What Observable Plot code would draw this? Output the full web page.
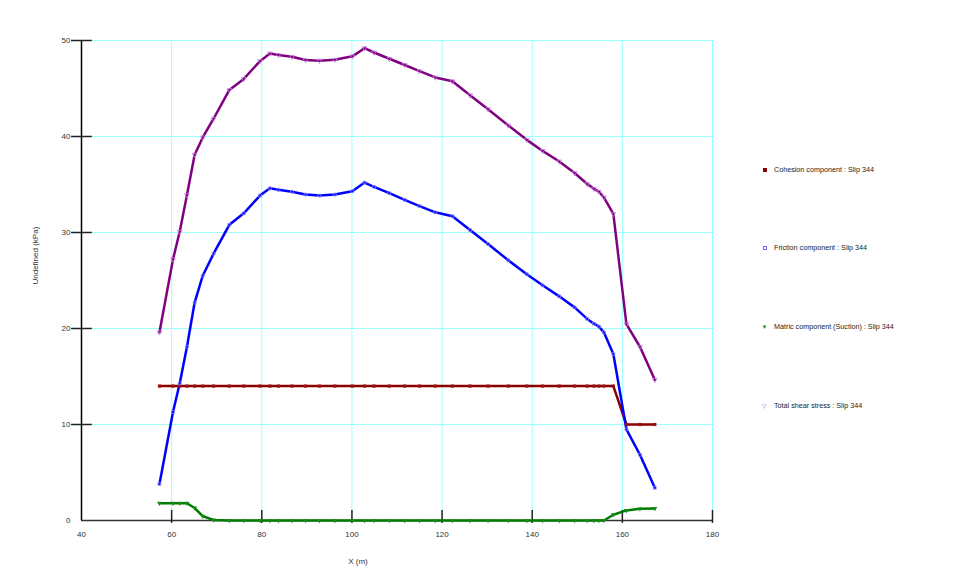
<!DOCTYPE html>
<html>
<head>
<meta charset="utf-8">
<script src="https://cdn.jsdelivr.net/npm/d3@7"></script>
<script src="https://cdn.jsdelivr.net/npm/@observablehq/plot@0.6"></script>
<style>
  html, body { margin: 0; padding: 0; background: #fff; }
  #wrap { position: relative; width: 975px; height: 584px; font-family: "Liberation Sans", Arial, sans-serif; }
  #legend { position: absolute; left: 760px; top: 0; font-size: 7.2px; color: #222; }
  .item { position: absolute; left: 0; white-space: nowrap; display: flex; align-items: center; }
  .mk { display: inline-block; width: 9px; margin-right: 5px; text-align: center; font-size: 6px; line-height: 6px; }
  .sq { display: inline-block; width: 4px; height: 4px; box-sizing: border-box; }
</style>
</head>
<body>
<div id="wrap"><div id="legend"></div></div>
<script>
// Slice x positions (m)
const xs = [57.3, 60.3, 61.8, 63.4, 65.1, 66.9, 69.3, 72.8, 76.0, 79.6, 81.8, 83.7, 86.7, 89.7, 92.8, 96.2, 100.1, 102.8, 104.9, 108.3, 111.7, 115.0, 118.5, 122.3, 126.2, 130.2, 134.7, 138.8, 142.3, 146.0, 149.4, 152.2, 153.7, 154.8, 155.9, 158.0, 160.9, 163.9, 167.2];
// Cohesion component (kPa)
const cohesion = [14, 14, 14, 14, 14, 14, 14, 14, 14, 14, 14, 14, 14, 14, 14, 14, 14, 14, 14, 14, 14, 14, 14, 14, 14, 14, 14, 14, 14, 14, 14, 14, 14, 14, 14, 14, 10, 10, 10];
// Friction component (kPa)
const friction = [3.8, 11.3, 14.3, 18.1, 22.7, 25.5, 27.8, 30.8, 32.0, 33.85, 34.6, 34.45, 34.25, 33.95, 33.85, 33.95, 34.3, 35.2, 34.75, 34.1, 33.4, 32.75, 32.1, 31.7, 30.25, 28.8, 27.1, 25.65, 24.5, 23.35, 22.2, 21.0, 20.5, 20.2, 19.6, 17.35, 9.5, 6.85, 3.4];
// Matric component (Suction) (kPa)
const matric = [1.8, 1.8, 1.8, 1.8, 1.3, 0.45, 0.05, 0, 0, 0, 0, 0, 0, 0, 0, 0, 0, 0, 0, 0, 0, 0, 0, 0, 0, 0, 0, 0, 0, 0, 0, 0, 0, 0, 0, 0.6, 1.05, 1.22, 1.25];
// Total shear stress (kPa)
const total = [19.6, 27.2, 30.1, 33.9, 38.1, 39.9, 41.85, 44.85, 46.0, 47.85, 48.65, 48.5, 48.3, 47.97, 47.9, 48.0, 48.35, 49.2, 48.75, 48.1, 47.45, 46.8, 46.15, 45.75, 44.3, 42.85, 41.15, 39.65, 38.5, 37.4, 36.2, 35.05, 34.55, 34.25, 33.65, 31.95, 20.45, 18.1, 14.65];

const xTicks = [40, 60, 80, 100, 120, 140, 160, 180];
const yTicks = [0, 10, 20, 30, 40, 50];
const seriesNames = ["Cohesion component : Slip 344", "Friction component : Slip 344", "Matric component (Suction) : Slip 344", "Total shear stress : Slip 344"];

const rows = xs.map((x, i) => ({x, cohesion: cohesion[i], friction: friction[i], matric: matric[i], total: total[i]}));

const C = {cohesion: "#8b0000", friction: "#0000ff", matric: "#007a00", total: "#800080"};
const font = "Liberation Sans, Arial, sans-serif";

const chart = Plot.plot({
  width: 975,
  height: 584,
  marginLeft: 81,
  marginRight: 263,
  marginTop: 40,
  marginBottom: 64,
  style: {fontFamily: font, fontSize: "8px", color: "#333", background: "#fff"},
  x: {domain: [40, 180]},
  y: {domain: [0, 50]},
  marks: [
    Plot.gridX(xTicks.filter(d => d > 40), {stroke: "#99ffff", strokeOpacity: 1, strokeWidth: 1}),
    Plot.gridY(yTicks.filter(d => d > 0), {stroke: "#99ffff", strokeOpacity: 1, strokeWidth: 1}),
    Plot.axisX({ticks: xTicks, tickSize: 0, tickPadding: 11, label: null, fill: "#333"}),
    Plot.axisY({ticks: yTicks, tickSize: 0, tickPadding: 11, label: null, fill: "#333"}),
    // axis lines
    Plot.ruleY([0], {stroke: "#333", strokeWidth: 1.5}),
    Plot.ruleX([40], {stroke: "#000", strokeWidth: 1.5}),
    // tick marks (inward on x; crossing on y)
    Plot.ruleX(xTicks.filter(d => d > 40), {x: d => d, y1: -0.3, y2: 1.05, stroke: "#222", strokeWidth: 1.5}),
    Plot.ruleY(yTicks.filter(d => d > 0), {y: d => d, x1: 37.8, x2: 42.4, stroke: "#222", strokeWidth: 1.5}),
    // series lines
    Plot.line(rows, {x: "x", y: "cohesion", stroke: C.cohesion, strokeWidth: 2.5}),
    Plot.line(rows, {x: "x", y: "matric", stroke: C.matric, strokeWidth: 2.5}),
    Plot.line(rows, {x: "x", y: "friction", stroke: C.friction, strokeWidth: 2.5}),
    Plot.line(rows, {x: "x", y: "total", stroke: C.total, strokeWidth: 2.5}),
    // markers
    Plot.dot(rows, {x: "x", y: "cohesion", symbol: "square", r: 1.8, fill: "#9b1010", stroke: "none"}),
    Plot.dot(rows, {x: "x", y: "matric", symbol: "triangle", rotate: 180, r: 1.8, fill: "#1a8a1a", stroke: "none"}),
    Plot.dot(rows, {x: "x", y: "friction", symbol: "square", r: 1.6, fill: "none", stroke: "#8080ff", strokeWidth: 0.8}),
    Plot.dot(rows, {x: "x", y: "total", symbol: "triangle", rotate: 180, r: 1.8, fill: "none", stroke: "#c080e0", strokeWidth: 0.8}),
    // axis titles
    Plot.text(["Undefined (kPa)"], {frameAnchor: "left", rotate: -90, dx: -46, dy: 4, fontSize: 8, fill: "#333"}),
    Plot.text(["X (m)"], {frameAnchor: "bottom", dx: -39, dy: 43, fontSize: 8, fill: "#333"})
  ]
});
document.getElementById("wrap").prepend(chart);

// Legend
const legend = document.getElementById("legend");
const markers = [
  `<span class="sq" style="background:#8b0000"></span>`,
  `<span class="sq" style="border:1px solid #7070ff"></span>`,
  `<span style="color:#1a8a1a">&#9660;</span>`,
  `<span style="color:#a060d0">&#9661;</span>`
];
const tops = [165, 243, 322, 401];
seriesNames.forEach((name, i) => {
  const div = document.createElement("div");
  div.className = "item";
  div.style.top = tops[i] + "px";
  div.innerHTML = `<span class="mk">${markers[i]}</span><span>${name}</span>`;
  legend.appendChild(div);
});
</script>
</body>
</html>
